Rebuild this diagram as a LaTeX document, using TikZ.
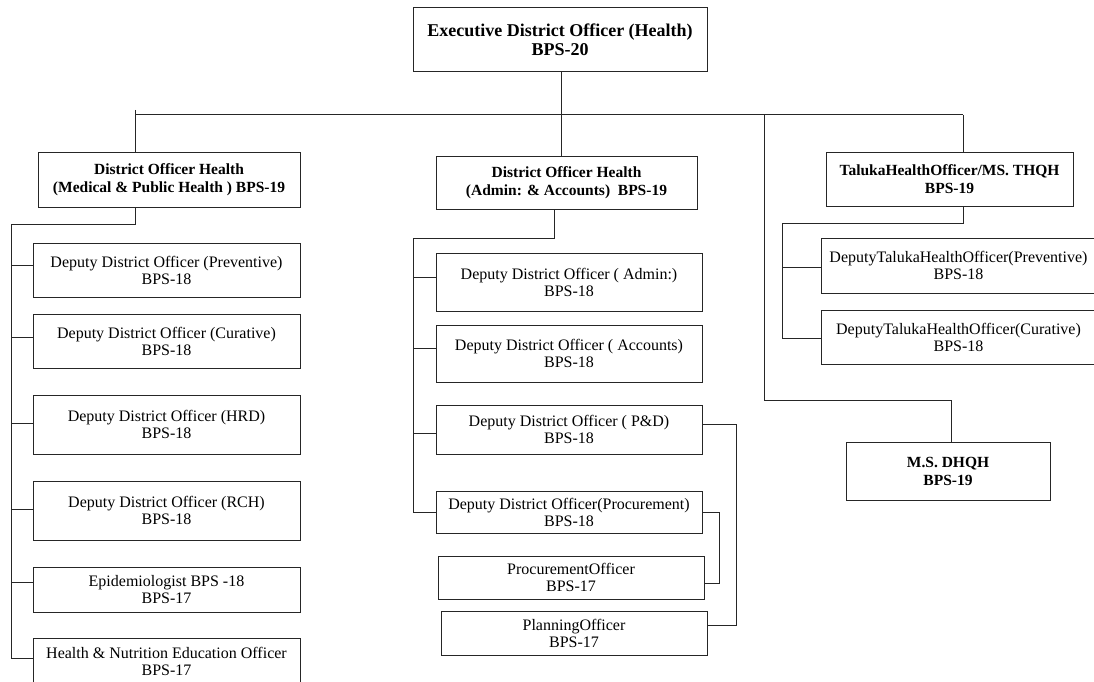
\documentclass[tikz,border=0pt]{standalone}
\usepackage{fontspec}
\setmainfont{Liberation Serif}
\begin{document}
\begin{tikzpicture}[x=1pt,y=-1pt,
  box/.style={draw=black!85, line width=1pt, rectangle, inner sep=0pt, align=center,
    font=\fontsize{16}{17}\selectfont},
  hbox/.style={box, font=\bfseries\fontsize{15.5}{18}\selectfont},
  topbox/.style={box, font=\bfseries\fontsize{18}{19}\selectfont},
  link/.style={draw=black!85, line width=1pt},
]
\useasboundingbox (0,0) rectangle (1094,682);

% head of the department
\node[topbox, minimum width=294pt, minimum height=64pt] (top) at (560,40)
  {Executive District Officer (Health)\\BPS-20};

% second tier
\node[hbox, minimum width=262pt, minimum height=55pt] (dohm) at (169,179.5)
  {District Officer Health\\(Medical \& Public Health ) BPS-19};
\node[hbox, minimum width=261pt, minimum height=53pt] (doha) at (566.5,182.5)
  {District Officer Health\\(Admin: \& Accounts)\ \ BPS-19};
\node[hbox, minimum width=247pt, minimum height=54pt] (tho) at (949.5,179)
  {TalukaHealthOfficer/MS. THQH\\BPS-19};
\node[hbox, minimum width=204pt, minimum height=58pt] (msd) at (948,471)
  {M.S. DHQH\\BPS-19};

% medical & public health wing
\node[box, minimum width=267pt, minimum height=54pt] (prev) at (166.5,270)
  {Deputy District Officer (Preventive)\\BPS-18};
\node[box, minimum width=267pt, minimum height=54pt] (cur) at (166.5,341)
  {Deputy District Officer (Curative)\\BPS-18};
\node[box, minimum width=267pt, minimum height=59pt] (hrd) at (166.5,424.5)
  {Deputy District Officer (HRD)\\BPS-18};
\node[box, minimum width=267pt, minimum height=59pt] (rch) at (166.5,510.5)
  {Deputy District Officer (RCH)\\BPS-18};
\node[box, minimum width=267pt, minimum height=45pt] (epi) at (166.5,589.5)
  {Epidemiologist BPS -18\\BPS-17};
\node[box, minimum width=267pt, minimum height=46pt] (hne) at (166.5,661)
  {Health \& Nutrition Education Officer\\BPS-17};

% admin & accounts wing
\node[box, minimum width=266pt, minimum height=58pt] (adm) at (569,282)
  {Deputy District Officer ( Admin:)\\BPS-18};
\node[box, minimum width=266pt, minimum height=57pt] (acc) at (569,353.5)
  {Deputy District Officer ( Accounts)\\BPS-18};
\node[box, minimum width=266pt, minimum height=49pt] (pd) at (569,429.5)
  {Deputy District Officer ( P\&D)\\BPS-18};
\node[box, minimum width=266pt, minimum height=42pt] (proc) at (569,512)
  {Deputy District Officer(Procurement)\\BPS-18};
\node[box, minimum width=266pt, minimum height=43pt] (po) at (571,577.5)
  {ProcurementOfficer\\BPS-17};
\node[box, minimum width=266pt, minimum height=44pt] (plan) at (574,633)
  {PlanningOfficer\\BPS-17};

% taluka wing
\node[box, minimum width=275pt, minimum height=55pt] (tdp) at (958.5,265.5)
  {DeputyTalukaHealthOfficer(Preventive)\\BPS-18};
\node[box, minimum width=275pt, minimum height=54pt] (tdc) at (958.5,337)
  {DeputyTalukaHealthOfficer(Curative)\\BPS-18};

% main bus
\coordinate (busLtop) at (135,110);
\coordinate (busL) at (135,115);
\coordinate (bus) at (561,115);
\coordinate (busM) at (764,115);
\coordinate (busR) at (963,115);
\coordinate (msdj) at (951,400);
\draw[link] (top.south -| bus) -- (bus);
\draw[link] (busL) -- (busR);
\draw[link] (busLtop) -- (busLtop |- dohm.north);
\draw[link] (bus) -- (bus |- doha.north);
\draw[link] (busR) -- (busR |- tho.north);
\draw[link] (busM) |- (msdj) -- (msdj |- msd.north);

% medical & public health spine
\coordinate (lj) at (135,224);
\coordinate (spL) at (11,224);
\coordinate (spLb) at (11,658);
\draw[link] (lj |- dohm.south) -- (lj) -- (spL) -- (spLb);
\coordinate (t1) at (11,265);
\coordinate (t2) at (11,337);
\coordinate (t3) at (11,423);
\coordinate (t4) at (11,509);
\coordinate (t5) at (11,582);
\draw[link] (t1) -- (t1 -| prev.west);
\draw[link] (t2) -- (t2 -| cur.west);
\draw[link] (t3) -- (t3 -| hrd.west);
\draw[link] (t4) -- (t4 -| rch.west);
\draw[link] (t5) -- (t5 -| epi.west);
\draw[link] (spLb) -- (spLb -| hne.west);

% admin & accounts spine
\coordinate (mj) at (554,238);
\coordinate (spM) at (413,238);
\coordinate (spMb) at (413,512);
\draw[link] (mj |- doha.south) -- (mj) -- (spM) -- (spMb);
\coordinate (m1) at (413,277);
\coordinate (m2) at (413,348);
\coordinate (m3) at (413,433);
\draw[link] (m1) -- (m1 -| adm.west);
\draw[link] (m2) -- (m2 -| acc.west);
\draw[link] (m3) -- (m3 -| pd.west);
\draw[link] (spMb) -- (spMb -| proc.west);

% officers under P&D and procurement
\coordinate (pdr) at (736,424);
\coordinate (pdrb) at (736,625);
\draw[link] (pdr -| pd.east) -- (pdr) -- (pdrb) -- (pdrb -| plan.east);
\coordinate (prr) at (719,512);
\coordinate (prrb) at (719,583);
\draw[link] (prr -| proc.east) -- (prr) -- (prrb) -- (prrb -| po.east);

% taluka spine
\coordinate (tj) at (963,223);
\coordinate (spT) at (782,223);
\coordinate (spTb) at (782,338);
\coordinate (tt1) at (782,267);
\draw[link] (tho.south -| tj) -- (tj) -- (spT) -- (spTb);
\draw[link] (tt1) -- (tt1 -| tdp.west);
\draw[link] (spTb) -- (spTb -| tdc.west);
\end{tikzpicture}
\end{document}
